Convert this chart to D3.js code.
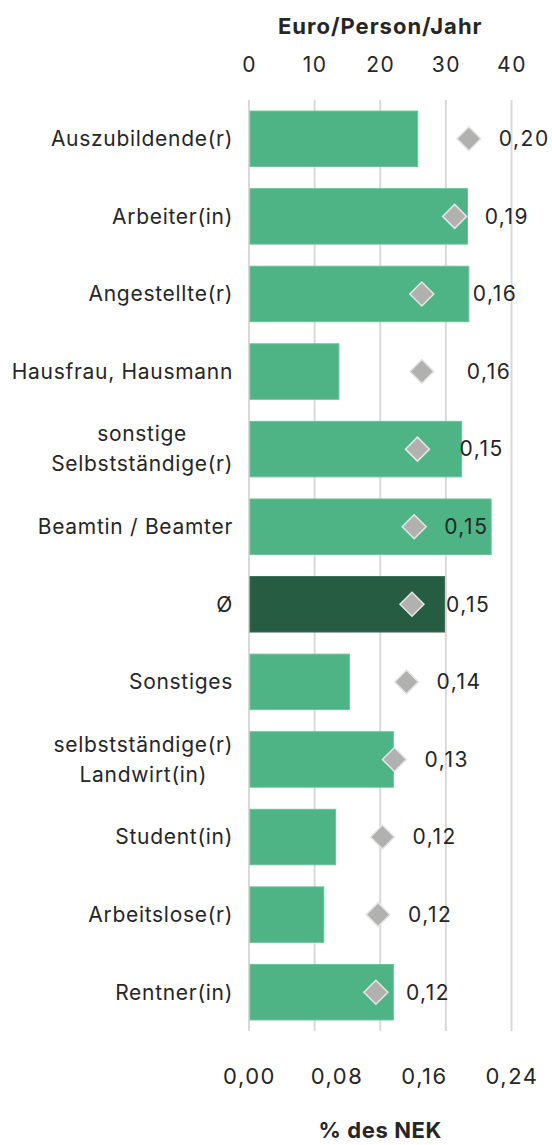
<!DOCTYPE html>
<html>
<head>
<meta charset="utf-8">
<script src="https://cdn.jsdelivr.net/npm/d3@7"></script>
<style>
  body { margin: 0; background: #fff; }
  text { font-family: Inter, Lato, sans-serif; fill: #262626; }
</style>
</head>
<body>
<div id="chart"></div>
<script>
// data
const categories = ['Auszubildende(r)', 'Arbeiter(in)', 'Angestellte(r)', 'Hausfrau, Hausmann',
  'sonstige\nSelbstständige(r)', 'Beamtin / Beamter', 'Ø', 'Sonstiges',
  'selbstständige(r)\nLandwirt(in)', 'Student(in)', 'Arbeitslose(r)', 'Rentner(in)']
const euroValues = [25.7, 33.3, 33.5, 13.7, 32.4, 36.9, 29.8, 15.3, 22.0, 13.2, 11.4, 22.0]
const nekValues = [0.201, 0.188, 0.158, 0.158, 0.154, 0.151, 0.149, 0.144, 0.133, 0.122, 0.118, 0.116]
const euroTicks = [0, 10, 20, 30, 40]
const nekTicks = [0, 0.08, 0.16, 0.24]
// manual nudges of the value labels (px), like moved labels in the original
const labelNudge = [0, 0, 21, 15, 12, 0, 4, 0, 0, 0, 0, 0]

function draw() {
  const width = 552
  const height = 1145
  const plot = { left: 249, right: 511.5, top: 100, bottom: 1031 }

  const svg = d3.select('#chart')
    .append('svg')
    .attr('width', width)
    .attr('height', height)

  const rows = categories.map((c, i) => ({ cat: c, euro: euroValues[i], nek: nekValues[i], nudge: labelNudge[i], i }))

  //scales
  const xEuro = d3.scaleLinear().domain([0, 40]).range([plot.left, plot.right])
  const xNek = d3.scaleLinear().domain([0, 0.24]).range([plot.left, plot.right])
  const yScale = d3.scaleBand()
    .domain(categories)
    .range([plot.top, plot.bottom])
    .paddingInner(0.285)
    .paddingOuter(0.1425)

  //gridlines from the top axis
  svg.append('g')
    .selectAll('line')
    .data(euroTicks)
    .join('line')
    .attr('x1', d => xEuro(d))
    .attr('x2', d => xEuro(d))
    .attr('y1', plot.top)
    .attr('y2', plot.bottom)
    .attr('stroke', '#d9d9d9')
    .attr('stroke-width', 2)

  //top axis
  const topAxis = d3.axisTop(xEuro).tickValues(euroTicks).tickSize(0).tickPadding(0)
  const topG = svg.append('g')
    .attr('transform', 'translate(0,72)')
    .call(topAxis)
  topG.select('.domain').remove()
  topG.selectAll('text')
    .attr('font-size', 21)
    .attr('letter-spacing', 1.5)
    .attr('font-family', 'Inter, Lato, sans-serif')
    .attr('fill', '#404040')

  svg.append('text')
    .attr('x', (plot.left + plot.right) / 2)
    .attr('y', 34)
    .attr('text-anchor', 'middle')
    .attr('font-size', 22)
    .attr('letter-spacing', 1)
    .attr('font-weight', 'bold')
    .text('Euro/Person/Jahr')

  //bottom axis
  const fmt = v => d3.format('.2f')(v).replace('.', ',')
  const bottomAxis = d3.axisBottom(xNek).tickValues(nekTicks).tickSize(0).tickPadding(0).tickFormat(fmt)
  const bottomG = svg.append('g')
    .attr('transform', 'translate(0,1068)')
    .call(bottomAxis)
  bottomG.select('.domain').remove()
  bottomG.selectAll('text')
    .attr('font-size', 22)
    .attr('letter-spacing', 1.5)
    .attr('font-family', 'Inter, Lato, sans-serif')
    .attr('fill', '#404040')

  svg.append('text')
    .attr('x', (plot.left + plot.right) / 2)
    .attr('y', 1138)
    .attr('text-anchor', 'middle')
    .attr('font-size', 22)
    .attr('letter-spacing', 0.6)
    .attr('font-weight', 'bold')
    .text('% des NEK')

  //bars
  svg.append('g')
    .selectAll('rect')
    .data(rows)
    .join('rect')
    .attr('x', xEuro(0) + 1)
    .attr('y', d => yScale(d.cat))
    .attr('width', d => xEuro(d.euro) - xEuro(0) - 1)
    .attr('height', yScale.bandwidth())
    .attr('fill', d => d.cat === 'Ø' ? '#265c42' : '#4eb385')
    .attr('stroke', d => d.cat === 'Ø' ? '#3d6e56' : '#6cc19a')
    .attr('stroke-width', 1)

  //diamonds
  const half = 12
  svg.append('g')
    .selectAll('path')
    .data(rows)
    .join('path')
    .attr('transform', d => `translate(${xNek(d.nek)},${yScale(d.cat) + yScale.bandwidth() / 2})`)
    .attr('d', `M0,${-half}L${half},0L0,${half}L${-half},0Z`)
    .attr('fill', '#b1b1af')
    .attr('stroke', '#e6e6e6')
    .attr('stroke-width', 1.5)

  //value labels
  svg.append('g')
    .selectAll('text')
    .data(rows)
    .join('text')
    .attr('x', d => xNek(d.nek) + 30 + d.nudge)
    .attr('y', d => yScale(d.cat) + yScale.bandwidth() / 2)
    .attr('dy', '0.35em')
    .attr('font-size', 21)
    .attr('letter-spacing', 1.5)
    .text(d => fmt(d.nek))

  //category labels, wrapped lines centred on each other
  const labelRight = 233
  const lineH = 30
  const catG = svg.append('g')
  rows.forEach(d => {
    const lines = d.cat.split('\n')
    const t = catG.append('text')
      .attr('font-size', 21)
      .attr('letter-spacing', 0.7)
      .attr('fill', '#333')
    const cy = yScale(d.cat) + yScale.bandwidth() / 2
    lines.forEach((ln, k) => {
      t.append('tspan')
        .attr('y', cy + (k - (lines.length - 1) / 2) * lineH)
        .attr('dy', '0.35em')
        .text(ln)
    })
    const maxW = d3.max(t.selectAll('tspan').nodes(), n => n.getComputedTextLength())
    t.attr('text-anchor', 'middle')
    t.selectAll('tspan').attr('x', labelRight - maxW / 2)
  })
}

draw()
</script>
</body>
</html>
